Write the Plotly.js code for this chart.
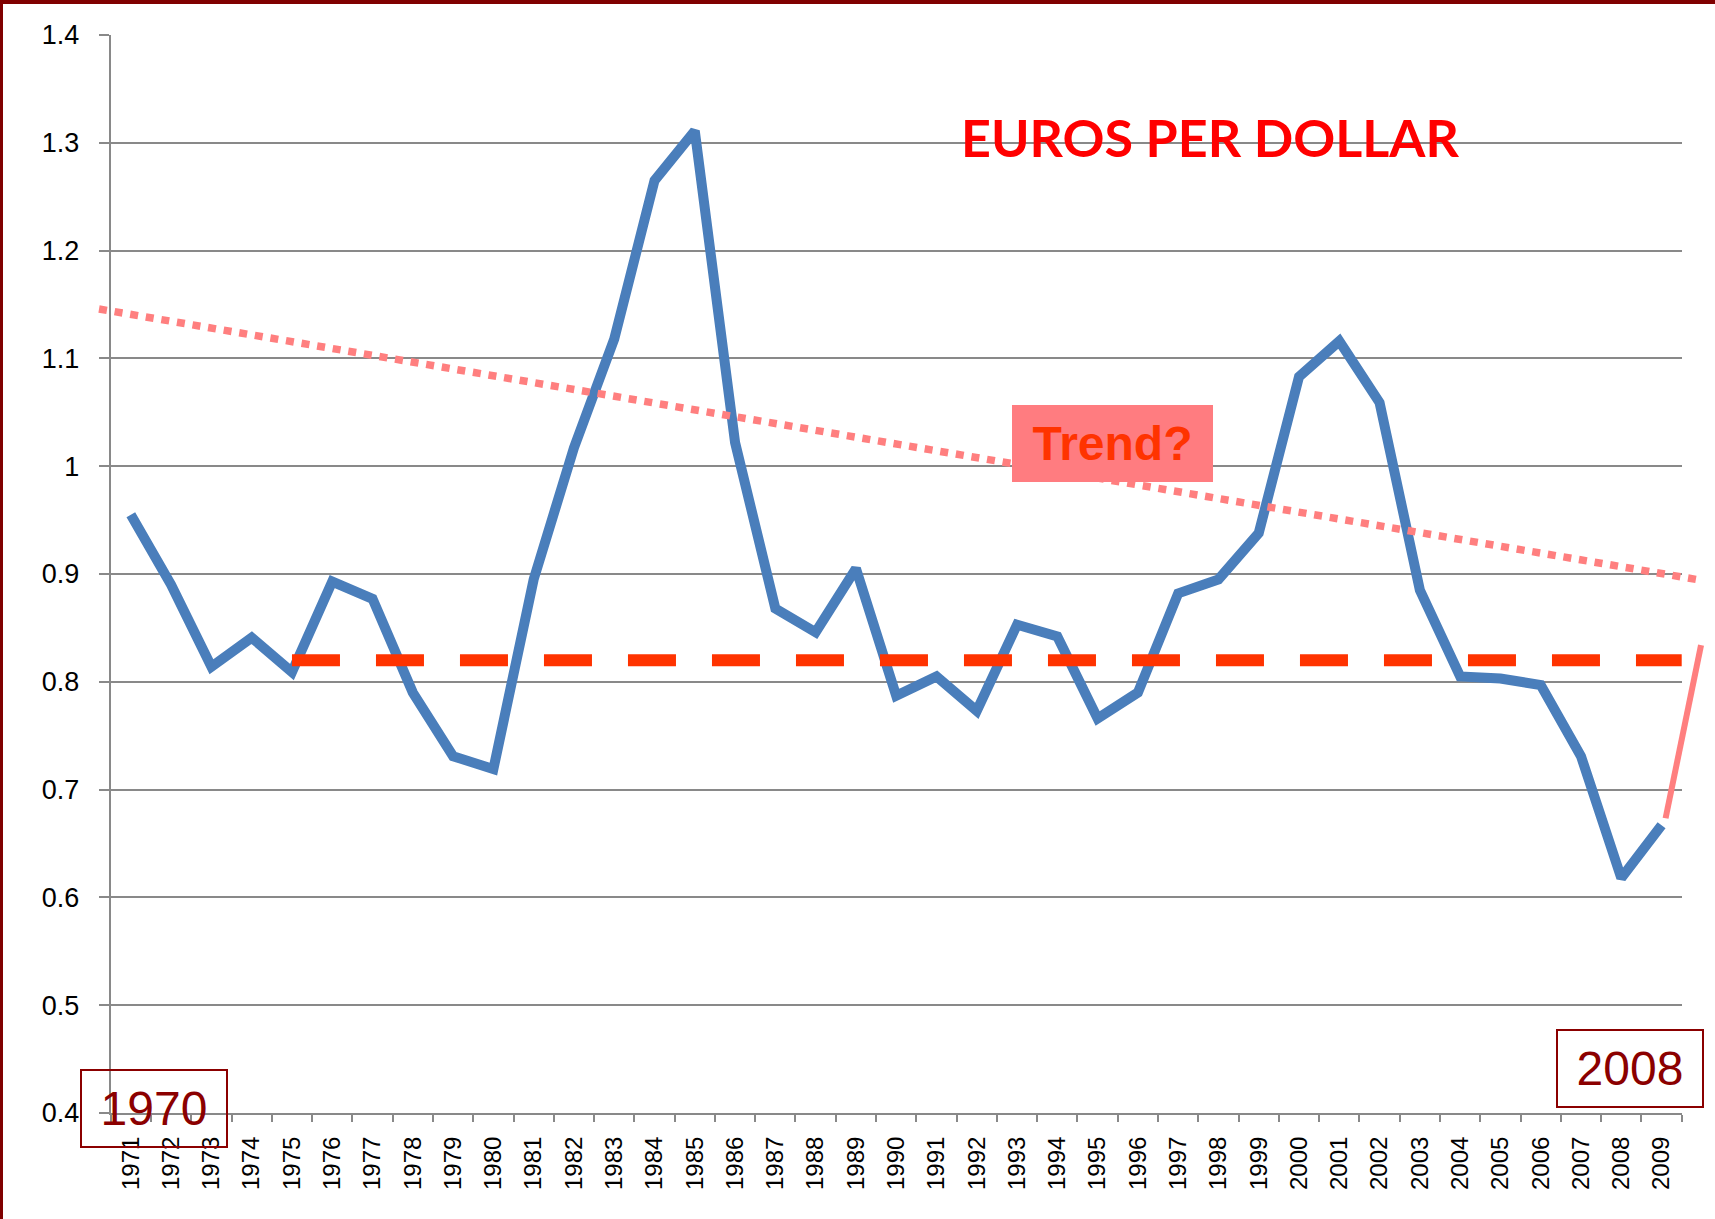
<!DOCTYPE html>
<html>
<head>
<meta charset="utf-8">
<script src="https://cdn.plot.ly/plotly-3.0.1.min.js"></script>
<style>
  html, body { margin: 0; padding: 0; background: #ffffff; }
  #chart { width: 1715px; height: 1219px; }
</style>
</head>
<body>
<div id="chart"></div>
<script>
// ---- data ----
const years = ["1971","1972","1973","1974","1975","1976","1977","1978","1979","1980",
               "1981","1982","1983","1984","1985","1986","1987","1988","1989","1990",
               "1991","1992","1993","1994","1995","1996","1997","1998","1999","2000",
               "2001","2002","2003","2004","2005","2006","2007","2008","2009"];
const eurosPerDollar = [0.955,0.890,0.814,0.841,0.809,0.893,0.877,0.790,0.731,0.719,
                        0.895,1.017,1.118,1.265,1.311,1.022,0.868,0.846,0.905,0.787,
                        0.805,0.773,0.853,0.842,0.766,0.790,0.882,0.895,0.938,1.083,
                        1.116,1.059,0.885,0.805,0.803,0.797,0.731,0.618,0.667];
const yTicks = [0.4,0.5,0.6,0.7,0.8,0.9,1.0,1.1,1.2,1.3,1.4];
const yTickText = ["0.4","0.5","0.6","0.7","0.8","0.9","1","1.1","1.2","1.3","1.4"];
// hand-drawn overlays (year, value)
const trendYears = [1970.21, 2009.955];
const trendValues = [1.1458, 0.8944];
const averageYears = [1975, 2009.5];
const averageValues = [0.82, 0.82];
const jumpYears = [2009.1, 2009.98];
const jumpValues = [0.6734, 0.834];
const chartTitle = "EUROS PER DOLLAR";
const trendLabel = "Trend?";
const startLabel = "1970";
const endLabel = "2008";

// ---- layout geometry (pixels) ----
const W = 1715, H = 1219;
const L = 110.7, R = 1681.7, T = 35, B = 1113;
const pxPerYear = (R - L) / years.length;
const pxPerVal = (B - T) / 1.0;
const x2range = [1970.5 - L / pxPerYear, 2009.5 + (W - R) / pxPerYear];
const y2range = [0.4 - (H - B) / pxPerVal, 1.4 + T / pxPerVal];
const px = v => v / W;
const py = v => 1 - v / H;

const axisGray = "#898989";
const xTickFont = {family: "Liberation Sans, Arial, sans-serif", size: 24, color: "#000000"};
const yTickFont = {family: "Liberation Sans, Arial, sans-serif", size: 27, color: "#000000"};

const traces = [
  {
    x: years, y: eurosPerDollar, xaxis: "x", yaxis: "y",
    type: "scatter", mode: "lines",
    line: {color: "#4A7EBB", width: 10},
    hoverinfo: "skip", showlegend: false
  },
  {
    x: trendYears, y: trendValues, xaxis: "x2", yaxis: "y2",
    type: "scatter", mode: "lines",
    line: {color: "#FF7F7F", width: 7.5, dash: "8px,7.8px"},
    hoverinfo: "skip", showlegend: false
  },
  {
    x: averageYears, y: averageValues, xaxis: "x2", yaxis: "y2",
    type: "scatter", mode: "lines",
    line: {color: "#FF3300", width: 12, dash: "48px,36px"},
    hoverinfo: "skip", showlegend: false
  },
  {
    x: jumpYears, y: jumpValues, xaxis: "x2", yaxis: "y2",
    type: "scatter", mode: "lines",
    line: {color: "#FF7F7F", width: 6},
    hoverinfo: "skip", showlegend: false
  }
];

const layout = {
  width: W, height: H,
  margin: {l: 0, r: 0, t: 0, b: 0, pad: 0},
  paper_bgcolor: "#ffffff",
  plot_bgcolor: "rgba(0,0,0,0)",
  showlegend: false,
  xaxis: {
    domain: [px(L), px(R)],
    anchor: "y",
    type: "category",
    categoryorder: "array", categoryarray: years,
    range: [-0.5, years.length - 0.5],
    tickson: "boundaries",
    ticks: "outside", ticklen: 7, tickwidth: 2, tickcolor: axisGray,
    showline: true, linecolor: axisGray, linewidth: 2,
    showgrid: false, zeroline: false,
    tickangle: -90,
    tickfont: xTickFont,
    ticklabelstandoff: 12,
    fixedrange: true
  },
  yaxis: {
    domain: [py(B), py(T)],
    anchor: "x",
    range: [0.4, 1.4],
    tickmode: "array", tickvals: yTicks, ticktext: yTickText,
    ticks: "outside", ticklen: 10, tickwidth: 2, tickcolor: axisGray,
    showline: true, linecolor: axisGray, linewidth: 2,
    showgrid: true, gridcolor: axisGray, gridwidth: 2,
    zeroline: false,
    tickfont: yTickFont,
    ticklabelstandoff: 14,
    fixedrange: true
  },
  xaxis2: {
    domain: [0, 1], anchor: "y2", range: x2range,
    visible: false, showgrid: false, zeroline: false, fixedrange: true
  },
  yaxis2: {
    domain: [0, 1], anchor: "x2", range: y2range,
    visible: false, showgrid: false, zeroline: false, fixedrange: true
  },
  shapes: [
    // slide frame
    {type: "rect", xref: "paper", yref: "paper", x0: 0, x1: 1, y0: py(4), y1: 1,
     fillcolor: "#800000", line: {width: 0}, layer: "above"},
    {type: "rect", xref: "paper", yref: "paper", x0: 0, x1: px(3), y0: 0, y1: 1,
     fillcolor: "#800000", line: {width: 0}, layer: "above"}
  ],
  annotations: [
    {
      text: "<b>" + chartTitle + "</b>",
      xref: "paper", yref: "paper", x: px(1210), y: py(137),
      xanchor: "center", yanchor: "middle", showarrow: false,
      font: {family: "Comic Sans MS, Lato, sans-serif", size: 52, color: "#FF0000"}
    },
    {
      text: "<b>" + trendLabel + "</b>",
      xref: "paper", yref: "paper", x: px(1112.8), y: py(443),
      xanchor: "center", yanchor: "middle", showarrow: false,
      width: 201, height: 77, borderpad: 0, borderwidth: 0,
      bgcolor: "#FF7C80",
      font: {family: "Liberation Sans, Arial, sans-serif", size: 48, color: "#FF3300"}
    },
    {
      text: startLabel,
      xref: "paper", yref: "paper", x: px(153.7), y: py(1108),
      xanchor: "center", yanchor: "middle", showarrow: false,
      width: 144, height: 75, borderpad: 0, borderwidth: 2,
      bordercolor: "#8B0000", bgcolor: "rgba(0,0,0,0)",
      font: {family: "Liberation Sans, Arial, sans-serif", size: 48, color: "#8B0000"}
    },
    {
      text: endLabel,
      xref: "paper", yref: "paper", x: px(1629.5), y: py(1068),
      xanchor: "center", yanchor: "middle", showarrow: false,
      width: 144, height: 75, borderpad: 0, borderwidth: 2,
      bordercolor: "#8B0000", bgcolor: "#ffffff",
      font: {family: "Liberation Sans, Arial, sans-serif", size: 48, color: "#8B0000"}
    }
  ]
};

Plotly.newPlot("chart", traces, layout, {staticPlot: true, displayModeBar: false});
</script>
</body>
</html>
